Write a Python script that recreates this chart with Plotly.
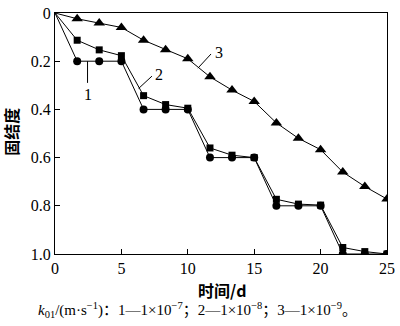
import plotly.graph_objects as go

days = [0, 1.67, 3.33, 5, 6.67, 8.33, 10, 11.67, 13.33, 15, 16.67, 18.33, 20, 21.67, 23.33, 25]
s1 = [0, 0.2, 0.2, 0.2, 0.4, 0.4, 0.4, 0.6, 0.6, 0.6, 0.8, 0.8, 0.8, 1.0, 1.0, 1.0]
s2 = [0, 0.113, 0.153, 0.177, 0.343, 0.38, 0.395, 0.56, 0.59, 0.6, 0.773, 0.793, 0.797, 0.973, 0.99, 1.0]
s3 = [0, 0.024, 0.042, 0.06, 0.113, 0.153, 0.19, 0.265, 0.32, 0.367, 0.456, 0.52, 0.567, 0.66, 0.72, 0.772]

y_ticks = [0, 0.2, 0.4, 0.6, 0.8, 1.0]
y_tick_text = ["0", "0.2", "0.4", "0.6", "0.8", "1.0"]
x_ticks = [0, 5, 10, 15, 20, 25]

serif = "Liberation Serif, Times New Roman, serif"
cjk = "Noto Sans CJK SC"

fig = go.Figure()
for ys, sym, sz in [(s1, "circle", 8), (s2, "square", 7), (s3, "triangle-up", 10)]:
    fig.add_trace(go.Scatter(x=days, y=ys, mode="lines",
                             line=dict(color="black", width=1),
                             showlegend=False, cliponaxis=True))
    fig.add_trace(go.Scatter(x=days[1:], y=ys[1:], mode="markers",
                             marker=dict(symbol=sym, size=sz, color="black"),
                             showlegend=False, cliponaxis=True))

# leader lines
fig.add_shape(type="line", x0=2.45, y0=0.2, x1=2.45, y1=0.29, line=dict(color="black", width=1))
fig.add_shape(type="line", x0=6.3, y0=0.313, x1=7.3, y1=0.262, line=dict(color="black", width=1))
fig.add_shape(type="line", x0=10.76, y0=0.229, x1=11.75, y1=0.17, line=dict(color="black", width=1))

for tx, ty, t in [(2.45, 0.34, "1"), (7.8, 0.255, "2"), (12.35, 0.165, "3")]:
    fig.add_annotation(x=tx, y=ty, text=t, showarrow=False,
                       font=dict(family=serif, size=16, color="black"))

fig.add_annotation(xref="paper", yref="paper", x=0.504, y=-0.149, xanchor="center", yanchor="middle",
                   text="<b>时间/d</b>",
                   showarrow=False, font=dict(family=cjk, size=16, color="black"))
fig.add_annotation(xref="paper", yref="paper", x=-0.1335, y=0.506, xanchor="center", yanchor="middle",
                   text="<b>固结度</b>", textangle=-90,
                   showarrow=False, font=dict(family=cjk, size=16, color="black"))
fig.add_annotation(xref="paper", yref="paper", x=0.43, y=-0.233, xanchor="center", yanchor="middle",
                   text="<i>k</i><sub>01</sub>/(m·s<sup>−1</sup>)：1—1×10<sup>−7</sup>；2—1×10<sup>−8</sup>；3—1×10<sup>−9</sup>。",
                   showarrow=False, font=dict(family="Liberation Serif, Noto Sans CJK SC", size=15, color="black"))

fig.update_xaxes(range=[0, 25], tickvals=x_ticks, ticks="inside", ticklen=5, tickcolor="black",
                 showline=True, linecolor="black", linewidth=1, mirror=True, showgrid=False,
                 zeroline=False, tickfont=dict(family=serif, size=16, color="black"),
                 ticklabeloverflow="allow")
fig.update_yaxes(range=[1.0, 0], tickvals=y_ticks, ticktext=y_tick_text, ticks="inside", ticklen=5,
                 tickcolor="black", showline=True, linecolor="black", linewidth=1, mirror=True,
                 showgrid=False, zeroline=False, tickfont=dict(family=serif, size=16, color="black"),
                 ticklabeloverflow="allow")

fig.update_layout(width=400, height=326, margin=dict(l=55, r=8, t=5, b=72),
                  plot_bgcolor="white", paper_bgcolor="white")

fig.write_html("out.html")
